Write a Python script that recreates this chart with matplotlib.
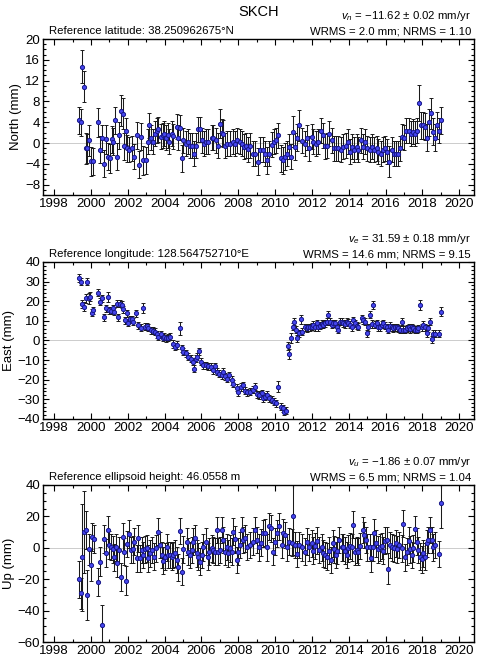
import numpy as np
import matplotlib
matplotlib.use("Agg")
import matplotlib.pyplot as plt
from matplotlib.ticker import MultipleLocator

plt.rcParams['font.family'] = ['Liberation Sans', 'DejaVu Sans']
plt.rcParams['mathtext.fontset'] = 'custom'
plt.rcParams['mathtext.rm'] = 'Liberation Sans'
plt.rcParams['mathtext.it'] = 'Liberation Sans:italic'

station = "SKCH"

# North component (mm)
north_t = [
    1999.36, 1999.43, 1999.52, 1999.61, 1999.70, 1999.80, 1999.90, 1999.98, 2000.08, 2000.39,
    2000.48, 2000.57, 2000.72, 2000.81, 2000.94, 2001.03, 2001.12, 2001.21, 2001.30, 2001.39,
    2001.52, 2001.62, 2001.72, 2001.79, 2001.88, 2001.97, 2002.08, 2002.20, 2002.33, 2002.48,
    2002.62, 2002.71, 2002.84, 2002.98, 2003.11, 2003.16, 2003.26, 2003.35, 2003.47, 2003.56,
    2003.65, 2003.78, 2003.89, 2003.96, 2004.07, 2004.16, 2004.25, 2004.38, 2004.47, 2004.65,
    2004.74, 2004.83, 2004.92, 2005.01, 2005.16, 2005.28, 2005.37, 2005.47, 2005.59, 2005.70,
    2005.83, 2005.92, 2006.01, 2006.14, 2006.24, 2006.37, 2006.55, 2006.64, 2006.79, 2006.91,
    2007.01, 2007.10, 2007.19, 2007.28, 2007.40, 2007.55, 2007.69, 2007.82, 2007.95, 2008.09,
    2008.18, 2008.31, 2008.42, 2008.55, 2008.64, 2008.78, 2008.91, 2009.09, 2009.18, 2009.33,
    2009.46, 2009.58, 2009.69, 2009.82, 2009.94, 2010.05, 2010.18, 2010.31, 2010.42, 2010.54,
    2010.67, 2010.78, 2010.85, 2010.96, 2011.09, 2011.18, 2011.32, 2011.45, 2011.63, 2011.72,
    2011.86, 2011.99, 2012.08, 2012.23, 2012.35, 2012.48, 2012.63, 2012.72, 2012.84, 2012.95,
    2013.08, 2013.21, 2013.31, 2013.44, 2013.57, 2013.71, 2013.86, 2013.98, 2014.07, 2014.17,
    2014.29, 2014.44, 2014.53, 2014.65, 2014.80, 2014.89, 2015.02, 2015.13, 2015.25, 2015.38,
    2015.52, 2015.61, 2015.74, 2015.89, 2015.98, 2016.10, 2016.21, 2016.34, 2016.47, 2016.57,
    2016.70, 2016.79, 2016.88, 2017.01, 2017.12, 2017.25, 2017.37, 2017.48, 2017.61, 2017.70,
    2017.82, 2017.92, 2018.02, 2018.15, 2018.24, 2018.39, 2018.48, 2018.60, 2018.69, 2018.78,
    2018.93, 2019.00,
]
north_mm = [
    4.4, 4.0, 14.7, 10.8, -1.0, -1.0, 0.5, -3.5, -3.5, 4.0,
    -1.3, 0.9, -4.0, 0.7, -2.6, -2.9, 0.7, 0.2, 4.4, -2.6,
    1.5, 6.2, 5.6, -0.6, 2.3, -1.0, -1.3, -1.0, -2.6, 1.5,
    -4.2, 1.2, -3.3, -3.3, 0.2, 3.4, 1.0, 0.2, 1.8, 2.4,
    2.6, 1.2, 1.5, 1.8, 1.0, 1.5, 0.2, 1.8, 1.3, 3.1,
    1.0, 2.9, -2.9, 0.5, -0.1, 0.2, -0.5, -0.5, -2.1, -0.5,
    2.6, 2.6, 0.5, -0.1, 0.2, 0.2, 1.0, 1.0, 0.5, -0.5,
    3.7, 2.0, 1.8, -0.5, -0.1, -0.1, 0.2, -0.1, 0.5, 0.2,
    -0.1, -0.7, -0.5, -1.2, -0.5, -2.1, -2.1, -3.6, -1.3, -1.3,
    -2.1, -3.3, -2.1, -0.3, 0.2, 0.5, 1.5, -2.9, -3.3, -2.6,
    -2.1, -0.7, -2.6, 2.2, -0.7, 1.0, 3.4, 0.4, -0.1, 1.0,
    -1.0, 1.2, 0.2, -0.1, 0.2, 2.4, 1.5, -0.6, -0.5, 1.8,
    0.5, -1.0, -1.0, -1.0, -1.3, -0.7, -0.5, 0.2, -1.7, -0.7,
    -1.3, -0.7, -1.3, 0.5, -0.7, 0.2, -1.0, -1.3, -0.7, -1.3,
    -1.0, -1.7, -2.1, -1.3, -1.0, -1.7, -3.6, -1.3, -2.1, -2.1,
    -2.1, -1.0, 1.2, 1.0, 2.4, 2.4, 1.8, 2.2, 1.8, 2.4,
    7.7, 3.4, 3.4, 3.1, 1.0, 4.0, 5.7, 2.2, 1.0, 3.4,
    2.4, 4.4,
]
north_sig = [
    2.6, 2.6, 3.2, 3.0, 3.0, 2.8, 3.0, 2.8, 2.6, 2.8,
    2.6, 2.6, 2.6, 2.8, 2.6, 2.8, 2.6, 2.6, 2.6, 2.6,
    2.6, 3.0, 3.0, 2.6, 2.6, 2.6, 2.4, 2.4, 2.4, 2.6,
    2.6, 2.6, 2.8, 2.6, 2.4, 2.4, 2.4, 2.4, 2.4, 2.4,
    2.4, 2.4, 2.4, 2.4, 2.4, 2.4, 2.4, 2.4, 2.4, 2.4,
    2.4, 2.4, 2.6, 2.4, 2.4, 2.4, 2.4, 2.4, 2.4, 2.4,
    2.4, 2.4, 2.4, 2.4, 2.4, 2.4, 2.4, 2.4, 2.4, 2.4,
    2.8, 2.6, 2.6, 2.4, 2.4, 2.4, 2.4, 2.4, 2.4, 2.4,
    2.4, 2.4, 2.4, 2.4, 2.4, 2.4, 2.4, 2.6, 2.4, 2.4,
    2.4, 2.6, 2.4, 2.4, 2.4, 2.4, 2.4, 2.6, 2.6, 2.6,
    2.4, 2.4, 2.4, 3.0, 2.6, 2.6, 3.0, 2.4, 2.4, 2.4,
    2.4, 2.4, 2.4, 2.4, 2.4, 2.4, 2.4, 2.4, 2.4, 2.4,
    2.4, 2.4, 2.4, 2.4, 2.4, 2.4, 2.4, 2.4, 2.4, 2.4,
    2.4, 2.4, 2.4, 2.4, 2.4, 2.4, 2.4, 2.4, 2.4, 2.4,
    2.4, 2.4, 2.4, 2.4, 2.4, 2.4, 3.0, 2.4, 2.4, 2.4,
    2.4, 2.4, 2.4, 2.4, 2.4, 2.4, 2.4, 2.4, 2.4, 2.4,
    3.4, 2.6, 2.6, 2.6, 2.6, 2.6, 3.0, 2.6, 2.6, 2.6,
    2.4, 2.6,
]

# East component (mm)
east_t = [
    1999.36, 1999.45, 1999.52, 1999.61, 1999.70, 1999.78, 1999.87, 1999.94, 2000.03, 2000.12,
    2000.39, 2000.48, 2000.57, 2000.72, 2000.81, 2000.90, 2000.99, 2001.08, 2001.17, 2001.26,
    2001.39, 2001.48, 2001.57, 2001.66, 2001.75, 2001.84, 2001.93, 2002.02, 2002.11, 2002.20,
    2002.29, 2002.44, 2002.57, 2002.69, 2002.84, 2002.93, 2003.02, 2003.11, 2003.24, 2003.35,
    2003.47, 2003.56, 2003.65, 2003.78, 2003.89, 2003.96, 2004.07, 2004.20, 2004.29, 2004.43,
    2004.56, 2004.69, 2004.83, 2004.92, 2005.01, 2005.16, 2005.28, 2005.41, 2005.52, 2005.61,
    2005.70, 2005.77, 2005.88, 2005.97, 2006.10, 2006.24, 2006.37, 2006.50, 2006.64, 2006.73,
    2006.86, 2006.97, 2007.10, 2007.19, 2007.28, 2007.37, 2007.51, 2007.64, 2007.73, 2007.91,
    2008.00, 2008.13, 2008.24, 2008.36, 2008.49, 2008.64, 2008.78, 2008.91, 2009.04, 2009.15,
    2009.27, 2009.36, 2009.46, 2009.58, 2009.69, 2009.82, 2009.94, 2010.05, 2010.18, 2010.31,
    2010.42, 2010.49, 2010.58, 2010.69, 2010.78, 2010.87, 2010.96, 2011.05, 2011.12, 2011.21,
    2011.30, 2011.39, 2011.48, 2011.63, 2011.72, 2011.81, 2011.90, 2011.99, 2012.08, 2012.17,
    2012.26, 2012.35, 2012.44, 2012.53, 2012.63, 2012.72, 2012.81, 2012.90, 2012.99, 2013.08,
    2013.17, 2013.26, 2013.35, 2013.44, 2013.53, 2013.62, 2013.71, 2013.80, 2013.89, 2013.98,
    2014.07, 2014.17, 2014.26, 2014.35, 2014.44, 2014.53, 2014.71, 2014.80, 2014.89, 2014.98,
    2015.07, 2015.13, 2015.25, 2015.34, 2015.43, 2015.52, 2015.61, 2015.70, 2015.80, 2015.89,
    2015.98, 2016.07, 2016.16, 2016.25, 2016.34, 2016.43, 2016.52, 2016.61, 2016.70, 2016.79,
    2016.88, 2016.97, 2017.06, 2017.15, 2017.25, 2017.34, 2017.43, 2017.52, 2017.61, 2017.70,
    2017.79, 2017.88, 2017.97, 2018.06, 2018.15, 2018.24, 2018.33, 2018.42, 2018.51, 2018.60,
    2018.69, 2018.88, 2019.00,
]
east_mm = [
    31.7, 30.0, 18.6, 17.2, 21.5, 30.0, 21.5, 22.3, 14.2, 15.5,
    24.4, 19.8, 21.5, 11.8, 16.4, 22.3, 15.5, 15.2, 16.4, 14.7,
    18.6, 11.8, 18.6, 18.1, 15.8, 10.4, 13.8, 9.0, 10.7, 10.7,
    9.5, 13.8, 7.8, 6.6, 16.4, 6.9, 7.3, 6.6, 5.2, 4.9,
    4.4, 3.2, 1.9, 3.2, 1.5, 1.9, 1.0, 1.5, 1.9, -1.8,
    -3.1, -2.3, 6.1, -4.0, -5.7, -6.6, -8.3, -9.2, -10.9, -14.3,
    -9.2, -8.3, -5.4, -10.9, -12.6, -12.6, -13.1, -13.4, -15.2, -13.1,
    -16.0, -16.9, -17.7, -16.0, -18.2, -19.4, -17.7, -20.3, -22.0, -24.0,
    -26.3, -23.7, -22.8, -25.7, -26.3, -26.1, -25.2, -23.5, -27.3, -27.8,
    -26.9, -29.5, -28.6, -27.8, -29.5, -30.3, -31.2, -32.0, -23.5, -33.7,
    -34.6, -36.3, -35.7, -2.8, -6.9, 1.1, 7.1, 9.6, 5.4, 1.1,
    3.7, 10.8, 4.5, 6.7, 6.2, 6.7, 6.7, 7.1, 7.9, 6.7,
    8.7, 6.7, 7.4, 8.4, 7.9, 8.7, 9.6, 13.0, 9.6, 7.9,
    8.7, 8.7, 6.7, 5.4, 9.6, 9.6, 8.7, 8.4, 9.6, 9.1,
    7.9, 6.7, 10.4, 8.7, 7.4, 7.1, 11.3, 10.4, 9.6, 3.7,
    6.7, 13.0, 8.4, 18.1, 7.9, 8.7, 6.7, 6.7, 7.9, 8.7,
    7.4, 6.7, 5.4, 7.4, 6.7, 6.2, 6.7, 6.7, 6.2, 5.4,
    9.6, 5.4, 5.4, 6.2, 6.7, 5.7, 6.7, 6.2, 5.4, 5.4,
    6.2, 18.1, 6.7, 7.9, 6.7, 3.7, 6.2, 9.6, 0.6, 3.4,
    3.4, 3.4, 14.7,
]
east_sig = [
    2.0, 2.0, 2.2, 2.4, 2.2, 2.0, 2.8, 2.2, 1.8, 1.8,
    2.0, 1.8, 1.8, 1.8, 1.8, 2.6, 1.8, 1.8, 1.8, 1.8,
    1.8, 1.8, 1.8, 1.8, 1.8, 1.8, 1.8, 1.8, 1.8, 1.8,
    1.8, 1.8, 1.8, 1.8, 2.6, 1.8, 1.8, 1.8, 1.8, 1.8,
    1.8, 1.8, 1.8, 1.8, 1.8, 1.8, 1.8, 1.8, 1.8, 1.8,
    1.8, 1.8, 3.2, 1.8, 1.8, 1.8, 1.8, 1.8, 1.8, 1.8,
    1.8, 1.8, 1.8, 1.8, 1.8, 1.8, 1.8, 1.8, 1.8, 1.8,
    1.8, 1.8, 1.8, 1.8, 1.8, 1.8, 1.8, 2.2, 1.8, 1.8,
    1.8, 1.8, 1.8, 1.8, 1.8, 1.8, 1.8, 1.8, 1.8, 1.8,
    1.8, 1.8, 1.8, 1.8, 1.8, 1.8, 1.8, 1.8, 2.8, 1.8,
    1.8, 1.8, 1.8, 2.0, 2.4, 2.6, 2.0, 1.8, 1.8, 1.8,
    1.8, 2.4, 1.8, 1.8, 1.8, 1.8, 1.8, 1.8, 1.8, 1.8,
    1.8, 1.8, 1.8, 1.8, 1.8, 1.8, 1.8, 1.8, 1.8, 1.8,
    1.8, 1.8, 1.8, 1.8, 1.8, 1.8, 1.8, 1.8, 1.8, 1.8,
    1.8, 1.8, 1.8, 1.8, 1.8, 1.8, 1.8, 1.8, 1.8, 1.8,
    1.8, 1.8, 1.8, 2.2, 1.8, 1.8, 1.8, 1.8, 1.8, 1.8,
    1.8, 1.8, 1.8, 1.8, 1.8, 1.8, 1.8, 1.8, 1.8, 1.8,
    1.8, 1.8, 1.8, 1.8, 1.8, 1.8, 1.8, 1.8, 1.8, 1.8,
    1.8, 2.6, 1.8, 1.8, 1.8, 1.8, 1.8, 1.8, 1.8, 1.8,
    1.8, 1.8, 2.4,
]

# Up component (mm)
up_t = [
    1999.36, 1999.43, 1999.52, 1999.61, 1999.70, 1999.80, 1999.89, 1999.98, 2000.07, 2000.16,
    2000.39, 2000.48, 2000.57, 2000.72, 2000.81, 2000.90, 2000.99, 2001.08, 2001.17, 2001.24,
    2001.35, 2001.43, 2001.52, 2001.61, 2001.72, 2001.81, 2001.90, 2001.97, 2002.08, 2002.17,
    2002.26, 2002.35, 2002.48, 2002.57, 2002.66, 2002.75, 2002.84, 2002.93, 2003.02, 2003.11,
    2003.20, 2003.29, 2003.42, 2003.53, 2003.65, 2003.74, 2003.83, 2003.92, 2004.01, 2004.11,
    2004.20, 2004.29, 2004.38, 2004.47, 2004.56, 2004.65, 2004.74, 2004.83, 2004.92, 2005.01,
    2005.19, 2005.28, 2005.37, 2005.47, 2005.56, 2005.65, 2005.74, 2005.83, 2005.92, 2006.01,
    2006.10, 2006.23, 2006.33, 2006.43, 2006.55, 2006.64, 2006.73, 2006.82, 2006.91, 2007.01,
    2007.10, 2007.19, 2007.28, 2007.37, 2007.46, 2007.55, 2007.64, 2007.73, 2007.82, 2007.91,
    2008.00, 2008.09, 2008.18, 2008.27, 2008.36, 2008.45, 2008.64, 2008.78, 2008.91, 2009.04,
    2009.15, 2009.24, 2009.36, 2009.46, 2009.58, 2009.69, 2009.78, 2009.91, 2010.00, 2010.13,
    2010.23, 2010.36, 2010.45, 2010.54, 2010.67, 2010.78, 2010.90, 2010.99, 2011.09, 2011.18,
    2011.32, 2011.45, 2011.63, 2011.76, 2011.86, 2011.99, 2012.08, 2012.17, 2012.30, 2012.41,
    2012.53, 2012.63, 2012.72, 2012.81, 2012.95, 2013.02, 2013.13, 2013.21, 2013.31, 2013.39,
    2013.49, 2013.62, 2013.71, 2013.80, 2013.89, 2013.98, 2014.07, 2014.17, 2014.26, 2014.35,
    2014.44, 2014.53, 2014.62, 2014.76, 2014.84, 2014.94, 2015.02, 2015.13, 2015.20, 2015.31,
    2015.38, 2015.49, 2015.61, 2015.70, 2015.80, 2015.89, 2015.98, 2016.07, 2016.16, 2016.25,
    2016.34, 2016.47, 2016.57, 2016.65, 2016.76, 2016.88, 2016.97, 2017.06, 2017.15, 2017.25,
    2017.34, 2017.43, 2017.52, 2017.61, 2017.70, 2017.79, 2017.88, 2017.97, 2018.06, 2018.15,
    2018.24, 2018.33, 2018.42, 2018.51, 2018.60, 2018.69, 2018.93, 2019.00,
]
up_mm = [
    -20.1, -29.0, -6.1, 10.2, 11.3, -30.1, -1.0, -11.0, 7.0, 5.4,
    -21.6, -8.8, -49.2, 5.4, -3.1, 11.3, 1.8, 0.6, -1.0, -6.1,
    0.2, -9.9, -1.4, -18.4, 7.0, -2.5, -20.9, 2.5, 8.9, -1.4,
    -1.0, 3.9, -6.7, 6.0, -6.7, -1.4, -4.6, -1.0, -0.3, -6.7,
    -3.5, -1.4, -5.6, -0.3, 10.2, 1.8, -4.6, -8.2, -5.6, 0.2,
    -4.6, -4.6, -5.6, -4.6, -3.5, -7.8, -12.5, 10.8, -15.2, -1.0,
    3.9, -2.5, -4.6, -1.4, 3.9, 6.0, -3.5, -5.6, -8.8, -4.6,
    0.2, 3.9, -5.6, -2.5, -0.3, -1.4, -2.5, 11.3, -2.5, -1.4,
    11.3, 4.9, -2.5, 0.6, -3.5, -0.3, -2.5, 10.2, 5.4, -7.8,
    -2.5, 1.8, 11.3, 4.9, 6.0, 0.6, 1.8, 3.9, 11.3, 4.9,
    0.2, 3.2, 9.2, 9.7, 0.2, 13.6, 12.5, -2.5, 3.9, 9.2,
    13.6, 1.8, 9.7, 8.2, 0.2, 3.9, 3.2, 20.2, 1.8, -4.0,
    1.8, 0.2, -2.5, 3.9, 0.2, 2.9, -1.8, 1.2, 4.5, -1.4,
    0.2, -3.5, -4.6, -5.6, -1.8, -7.8, 2.9, -1.0, -4.6, -1.8,
    4.9, 0.2, 0.2, -1.8, -4.6, -0.3, 1.2, 0.2, 14.7, -2.5,
    -1.4, -2.5, 1.2, 11.3, 8.2, 4.9, 0.2, 0.2, -6.7, 0.2,
    9.7, 2.9, -1.0, 0.2, 1.2, -1.8, 4.5, 4.9, -13.2, 1.8,
    0.2, -0.3, 2.9, -1.0, 1.8, -0.3, 15.3, -6.1, -2.5, 4.5,
    -1.0, -4.6, -0.3, 11.7, 3.9, -1.4, -5.6, -7.3, -3.5, -5.6,
    2.9, 4.9, 11.3, 4.9, 0.2, 1.8, -4.0, 28.7,
]
up_sig = [
    12.0, 10.0, 34.0, 26.0, 12.0, 16.0, 10.0, 10.0, 9.0, 9.0,
    9.0, 9.0, 13.0, 9.0, 9.0, 9.0, 9.0, 8.5, 8.5, 8.5,
    8.5, 8.5, 8.5, 9.0, 9.0, 8.5, 9.0, 8.5, 9.0, 8.5,
    8.5, 8.5, 8.5, 8.5, 8.5, 8.5, 8.5, 8.5, 8.5, 8.5,
    8.5, 8.5, 8.5, 8.5, 8.5, 8.5, 8.5, 8.5, 8.5, 8.5,
    8.5, 8.5, 8.5, 8.5, 8.5, 8.5, 8.5, 8.5, 8.5, 8.5,
    8.5, 8.5, 8.5, 8.5, 8.5, 8.5, 8.5, 8.5, 8.5, 8.5,
    8.5, 8.5, 8.5, 8.5, 8.5, 8.5, 8.5, 8.5, 8.5, 8.5,
    8.5, 8.5, 8.5, 8.5, 8.5, 8.5, 8.5, 8.5, 8.5, 8.5,
    8.5, 8.5, 8.5, 8.5, 8.5, 8.5, 8.5, 8.5, 8.5, 8.5,
    8.5, 8.5, 8.5, 8.5, 8.5, 8.5, 8.5, 8.5, 8.5, 8.5,
    8.5, 8.5, 8.5, 8.5, 8.5, 8.5, 8.5, 25.0, 8.5, 8.5,
    8.5, 8.5, 8.5, 8.5, 8.5, 8.5, 8.5, 8.5, 8.5, 8.5,
    8.5, 8.5, 8.5, 8.5, 8.5, 8.5, 8.5, 8.5, 8.5, 8.5,
    8.5, 8.5, 8.5, 8.5, 8.5, 8.5, 8.5, 8.5, 8.5, 8.5,
    8.5, 8.5, 8.5, 8.5, 8.5, 8.5, 8.5, 8.5, 8.5, 8.5,
    8.5, 8.5, 8.5, 8.5, 8.5, 8.5, 8.5, 8.5, 10.0, 8.5,
    8.5, 8.5, 8.5, 8.5, 8.5, 8.5, 8.5, 8.5, 8.5, 8.5,
    8.5, 8.5, 8.5, 8.5, 8.5, 8.5, 8.5, 8.5, 8.5, 8.5,
    8.5, 8.5, 8.5, 8.5, 8.5, 8.5, 8.5, 16.0,
]

ylabels = ["North (mm)", "East (mm)", "Up (mm)"]
ref_texts = ["Reference latitude: 38.250962675°N",
             "Reference longitude: 128.564752710°E",
             "Reference ellipsoid height: 46.0558 m"]
vel_texts = [r"$v_n$ = −11.62 ± 0.02 mm/yr",
             r"$v_e$ = 31.59 ± 0.18 mm/yr",
             r"$v_u$ = −1.86 ± 0.07 mm/yr"]
stat_texts = ["WRMS = 2.0 mm; NRMS = 1.10",
              "WRMS = 14.6 mm; NRMS = 9.15",
              "WRMS = 6.5 mm; NRMS = 1.04"]
ylims = [(-10, 20), (-40, 40), (-60, 40)]
ymajor = [4, 10, 20]
yminor = [1, 2, 5]

series = [(north_t, north_mm, north_sig),
          (east_t, east_mm, east_sig),
          (up_t, up_mm, up_sig)]

fig = plt.figure(figsize=(4.78, 6.57), dpi=100)
boxes = [[0.090, 0.7032, 0.9017, 0.2374],
         [0.090, 0.3623, 0.9017, 0.2390],
         [0.090, 0.0228, 0.9017, 0.2390]]

for i, (t, y, s) in enumerate(series):
    ax = fig.add_axes(boxes[i])
    ax.axhline(0, color="#c4c4c4", lw=0.6, zorder=0)
    ax.errorbar(t, y, yerr=s, fmt="o", ms=3.0, mfc="#4646ee", mec="#181888",
                mew=0.7, ecolor="#1a1a1a", elinewidth=0.75, capsize=1.5,
                capthick=0.75, zorder=2)
    ax.set_xlim(1997.39, 2020.81)
    ax.set_ylim(*ylims[i])
    ax.xaxis.set_major_locator(MultipleLocator(2))
    ax.xaxis.set_minor_locator(MultipleLocator(1))
    ax.yaxis.set_major_locator(MultipleLocator(ymajor[i]))
    ax.yaxis.set_minor_locator(MultipleLocator(yminor[i]))
    ax.tick_params(which="both", direction="in", top=True, right=True,
                   labelsize=9.5, pad=2, width=0.8)
    ax.tick_params(which="major", length=4)
    ax.tick_params(which="minor", length=2)
    for sp in ax.spines.values():
        sp.set_linewidth(1.0)
    ax.set_ylabel(ylabels[i], fontsize=9.5, labelpad=2)
    ax.annotate(ref_texts[i], xy=(0.014, 1), xycoords="axes fraction",
                xytext=(0, 3.5), textcoords="offset points",
                ha="left", va="baseline", fontsize=8.2)
    ax.annotate(stat_texts[i], xy=(0.993, 1), xycoords="axes fraction",
                xytext=(0, 3.5), textcoords="offset points",
                ha="right", va="baseline", fontsize=8.2)
    ax.annotate(vel_texts[i], xy=(0.993, 1), xycoords="axes fraction",
                xytext=(0, 14.5), textcoords="offset points",
                ha="right", va="baseline", fontsize=8.2)

fig.text(0.541, 0.982, station, ha="center", va="center", fontsize=10.5)

fig.savefig("out.png", dpi=100)
